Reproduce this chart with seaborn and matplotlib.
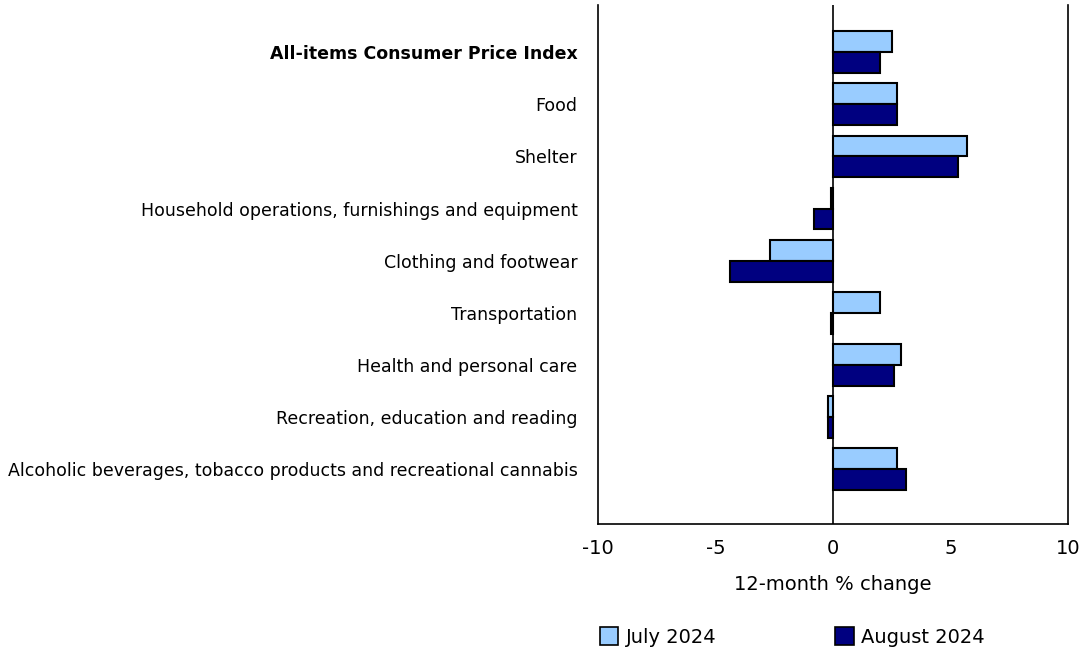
import pandas as pd
import numpy as np
import matplotlib
matplotlib.use('Agg')
import matplotlib.pyplot as plt
import seaborn as sns
from matplotlib.patches import Patch

sns.set_theme(style="white")
plt.rcParams['font.family'] = ['DejaVu Sans']

# Данные
categories = [
    'All-items Consumer Price Index',
    'Food',
    'Shelter',
    'Household operations, furnishings and equipment',
    'Clothing and footwear',
    'Transportation',
    'Health and personal care',
    'Recreation, education and reading',
    'Alcoholic beverages, tobacco products and recreational cannabis',
]
july_2024 = [2.5, 2.7, 5.7, -0.1, -2.7, 2.0, 2.9, -0.2, 2.7]
august_2024 = [2.0, 2.7, 5.3, -0.8, -4.4, -0.1, 2.6, -0.2, 3.1]
series_names = ['July 2024', 'August 2024']
colors = ['#99ccff', '#000080']

df = pd.DataFrame({
    'category': categories * 2,
    'value': july_2024 + august_2024,
    'period': [series_names[0]] * len(categories) + [series_names[1]] * len(categories),
})

fig = plt.figure(figsize=(10.82, 6.51), dpi=100)
ax = fig.add_axes([0.553, 0.195, 0.434, 0.797])

sns.barplot(data=df, x='value', y='category', hue='period', order=categories,
            hue_order=series_names, palette=colors, saturation=1, orient='h', width=0.8,
            edgecolor='black', linewidth=1.5, ax=ax, legend=False)

ax.axvline(0, color='black', linewidth=1.2, zorder=0.5)
ax.set_xlim(-10, 10)
ax.set_ylim(9.05, -0.9)
ax.set_xticks([-10, -5, 0, 5, 10])
ax.set_xticklabels(['-10', '-5', '0', '5', '10'])
ax.tick_params(axis='x', direction='in', length=6, width=1.2, labelsize=14, pad=11, colors='black')
ax.tick_params(axis='y', length=0, labelsize=12.5, pad=15)
for lbl in ax.get_yticklabels():
    lbl.set_color('black')
ax.get_yticklabels()[0].set_fontweight('bold')
ax.set_xlabel('12-month % change', fontsize=14, labelpad=12, color='black')
ax.set_ylabel('')
for side in ['left', 'right', 'bottom']:
    ax.spines[side].set_color('black')
    ax.spines[side].set_linewidth(1.2)
ax.spines['top'].set_visible(False)

handles = [Patch(facecolor=c, edgecolor='black', linewidth=1.2) for c in colors]
fig.legend(handles, series_names, loc='lower left', bbox_to_anchor=(0.538, -0.02),
           ncol=2, frameon=False, fontsize=14, handlelength=0.95, handleheight=1.0,
           handletextpad=0.4, columnspacing=6.1, labelcolor='black')

plt.savefig('out.png', dpi=100)
